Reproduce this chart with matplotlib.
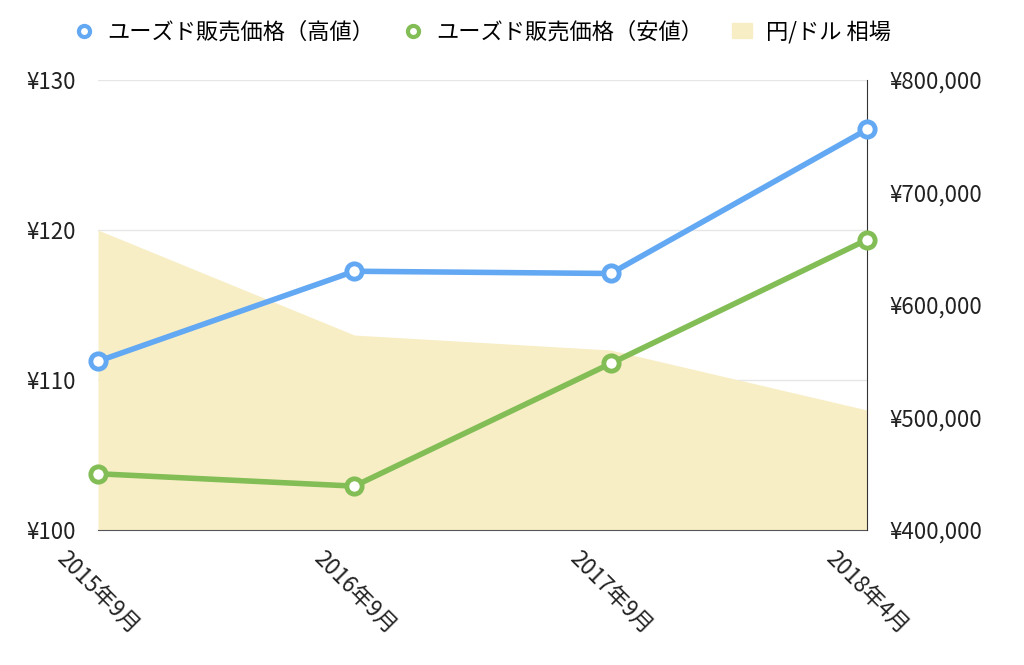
import matplotlib
matplotlib.use("Agg")
import matplotlib.pyplot as plt
from matplotlib.ticker import FuncFormatter
from matplotlib.lines import Line2D
from matplotlib.patches import Patch

plt.rcParams['font.family'] = ['Noto Sans CJK JP', 'DejaVu Sans']

categories = ["2015年9月", "2016年9月", "2017年9月", "2018年4月"]
high_price = [550000, 630000, 628000, 756000]
low_price = [450000, 439000, 548000, 658000]
yen_usd = [120, 113, 112, 108]

blue = "#63A8F2"
green = "#82BD55"
area_c = "#F8EEC6"

fig = plt.figure(figsize=(10.24, 6.65), dpi=100)
ax = fig.add_axes([98/1024, 1-530/665, (867-98)/1024, 450/665])
x = list(range(len(categories)))

ax.fill_between(x, yen_usd, 100, color=area_c, lw=0, zorder=1)
ax.set_ylim(100, 130)
ax.set_xlim(0, len(categories)-1)
ax.set_yticks([100, 110, 120, 130])
ax.yaxis.set_major_formatter(FuncFormatter(lambda v, p: f"¥{int(v)}"))
ax.grid(axis='y', color='#E6E6E6', lw=1, zorder=0)
ax.set_axisbelow(True)
ax.set_xticks(x)
ax.set_xticklabels(categories, rotation=-45, ha='center', va='top', fontsize=16)
ax.tick_params(axis='both', length=0, labelsize=16, colors='#222222')
ax.tick_params(axis='x', pad=12)
ax.tick_params(axis='y', pad=16)
for s in ['top', 'left', 'right']:
    ax.spines[s].set_visible(False)
ax.spines['bottom'].set_color('#555555')

ax2 = ax.twinx()
ax2.set_ylim(400000, 800000)
ax2.set_yticks([400000, 500000, 600000, 700000, 800000])
ax2.yaxis.set_major_formatter(FuncFormatter(lambda v, p: f"¥{int(v):,}"))
ax2.tick_params(axis='y', length=0, labelsize=16, colors='#222222', pad=16)
for s in ['top', 'left', 'bottom']:
    ax2.spines[s].set_visible(False)
ax2.spines['right'].set_color('#333333')
ax2.plot(x, high_price, color=blue, lw=4, marker='o', ms=11, mfc='white', mec=blue, mew=3.5,
         clip_on=False, zorder=3)
ax2.plot(x, low_price, color=green, lw=4, marker='o', ms=11, mfc='white', mec=green, mew=3.5,
         clip_on=False, zorder=3)

h1 = Line2D([], [], ls='none', marker='o', ms=8, mfc='white', mec=blue, mew=3)
h2 = Line2D([], [], ls='none', marker='o', ms=8, mfc='white', mec=green, mew=3)
h3 = Patch(color=area_c)
fig.legend([h1, h2, h3], ["ユーズド販売価格（高値）", "ユーズド販売価格（安値）", "円/ドル 相場"],
           loc='center', bbox_to_anchor=(0.471, 0.952), ncol=3, frameon=False, fontsize=16,
           handlelength=0.9, handletextpad=0.6, columnspacing=1.3)

fig.savefig("out.png", dpi=100)
